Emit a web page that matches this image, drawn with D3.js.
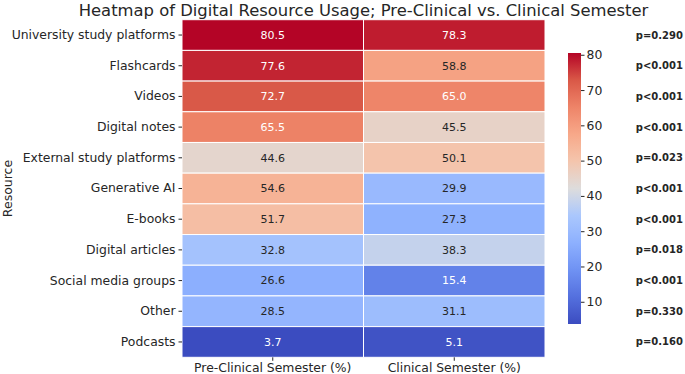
<!DOCTYPE html>
<html>
<head>
<meta charset="utf-8">
<script src="https://cdn.jsdelivr.net/npm/d3@7"></script>
<style>
  body { margin: 0; background: #fff; }
  svg { font-family: "DejaVu Sans", sans-serif; }
</style>
</head>
<body>
<svg id="chart"></svg>
<script>
// data
const resources = ['University study platforms', 'Flashcards', 'Videos', 'Digital notes',
    'External study platforms', 'Generative AI', 'E-books', 'Digital articles',
    'Social media groups', 'Other', 'Podcasts'];
const semesters = ['Pre-Clinical Semester (%)', 'Clinical Semester (%)'];
const preClinical = [80.5, 77.6, 72.7, 65.5, 44.6, 54.6, 51.7, 32.8, 26.6, 28.5, 3.7];
const clinical = [78.3, 58.8, 65.0, 45.5, 50.1, 29.9, 27.3, 38.3, 15.4, 31.1, 5.1];
const pValues = ['p=0.290', 'p<0.001', 'p<0.001', 'p<0.001', 'p=0.023', 'p<0.001',
    'p<0.001', 'p=0.018', 'p<0.001', 'p=0.330', 'p=0.160'];
const colorbarTicks = [10, 20, 30, 40, 50, 60, 70, 80];

// coolwarm approximation (styling)
const coolwarmStops = ['#3b4cc0', '#5470de', '#6f92f3', '#8db0fe', '#aac7fd', '#dddcdc',
    '#f4c5ad', '#f7a889', '#ee8468', '#d95847', '#b40426'];

const config = {
    width: 685,
    height: 374,
    left: 182, right: 545, top: 19.7, bottom: 357.3,
    cbarX: 568, cbarW: 13, cbarTop: 53, cbarBottom: 324
};

const allValues = preClinical.concat(clinical);
const vmin = d3.min(allValues), vmax = d3.max(allValues);

const table = [];
resources.forEach((r, i) => {
    table.push({ resource: r, semester: semesters[0], value: preClinical[i] });
    table.push({ resource: r, semester: semesters[1], value: clinical[i] });
});

const svg = d3.select('#chart')
    .attr('width', config.width)
    .attr('height', config.height);

const xScale = d3.scaleBand().domain(semesters).range([config.left, config.right]);
const yScale = d3.scaleBand().domain(resources).range([config.top, config.bottom]);

const colourInterp = d3.piecewise(d3.interpolateRgb, coolwarmStops);
const colourScale = v => colourInterp((v - vmin) / (vmax - vmin));

function luminance(c) {
    const rgb = d3.rgb(c);
    const f = x => {
        x /= 255;
        return x <= 0.03928 ? x / 12.92 : Math.pow((x + 0.055) / 1.055, 2.4);
    };
    return 0.2126 * f(rgb.r) + 0.7152 * f(rgb.g) + 0.0722 * f(rgb.b);
}

// cells
svg.append('g').selectAll('rect')
    .data(table)
    .join('rect')
    .attr('x', d => xScale(d.semester))
    .attr('y', d => yScale(d.resource))
    .attr('width', xScale.bandwidth())
    .attr('height', yScale.bandwidth())
    .attr('fill', d => colourScale(d.value))
    .attr('stroke', '#fff')
    .attr('stroke-width', 1);

svg.append('g').selectAll('text')
    .data(table)
    .join('text')
    .attr('x', d => xScale(d.semester) + xScale.bandwidth() / 2)
    .attr('y', d => yScale(d.resource) + yScale.bandwidth() / 2)
    .attr('dy', '0.35em')
    .attr('text-anchor', 'middle')
    .attr('font-size', 11)
    .attr('fill', d => luminance(colourScale(d.value)) > 0.408 ? '#262626' : '#ffffff')
    .text(d => d.value.toFixed(1));

// axes
const yAxis = d3.axisLeft(yScale).tickSize(3.5).tickPadding(3);
const yAxisG = svg.append('g')
    .attr('transform', `translate(${config.left},0)`)
    .call(yAxis);
yAxisG.select('.domain').remove();
yAxisG.selectAll('text').attr('font-size', 12.4).attr('fill', '#262626').attr('font-family', '"DejaVu Sans", sans-serif');
yAxisG.selectAll('line').attr('stroke', '#262626');

const xAxis = d3.axisBottom(xScale).tickSize(3.5).tickPadding(2);
const xAxisG = svg.append('g')
    .attr('transform', `translate(0,${config.bottom})`)
    .call(xAxis);
xAxisG.select('.domain').remove();
xAxisG.selectAll('text').attr('font-size', 12.4).attr('fill', '#262626').attr('font-family', '"DejaVu Sans", sans-serif');
xAxisG.selectAll('line').attr('stroke', '#262626');

svg.append('text')
    .attr('transform', `translate(12,${(config.top + config.bottom) / 2}) rotate(-90)`)
    .attr('text-anchor', 'middle')
    .attr('font-size', 12.5)
    .attr('fill', '#262626')
    .text('Resource');

// title, centred over the heatmap
svg.append('text')
    .attr('x', (config.left + config.right) / 2)
    .attr('y', 15.5)
    .attr('text-anchor', 'middle')
    .attr('font-size', 16.4)
    .attr('fill', '#262626')
    .text('Heatmap of Digital Resource Usage; Pre-Clinical vs. Clinical Semester');

// p-values
svg.append('g').selectAll('text')
    .data(pValues)
    .join('text')
    .attr('x', 683)
    .attr('y', (d, i) => yScale(resources[i]) + yScale.bandwidth() / 2)
    .attr('dy', '0.35em')
    .attr('text-anchor', 'end')
    .attr('font-size', 10)
    .attr('font-weight', 'bold')
    .attr('fill', '#262626')
    .text(d => d);

// colourbar
const cbScale = d3.scaleLinear().domain([vmin, vmax]).range([config.cbarBottom, config.cbarTop]);
const defs = svg.append('defs');
const grad = defs.append('linearGradient')
    .attr('id', 'cbar-grad')
    .attr('x1', 0).attr('y1', 1).attr('x2', 0).attr('y2', 0);
d3.range(0, 1.0001, 0.05).forEach(t => {
    grad.append('stop')
        .attr('offset', t)
        .attr('stop-color', colourInterp(t));
});
svg.append('rect')
    .attr('x', config.cbarX)
    .attr('y', config.cbarTop)
    .attr('width', config.cbarW)
    .attr('height', config.cbarBottom - config.cbarTop)
    .attr('fill', 'url(#cbar-grad)');

const cbAxis = d3.axisRight(cbScale).tickValues(colorbarTicks).tickSize(3.5).tickPadding(2);
const cbAxisG = svg.append('g')
    .attr('transform', `translate(${config.cbarX + config.cbarW},0)`)
    .call(cbAxis);
cbAxisG.select('.domain').remove();
cbAxisG.selectAll('text').attr('font-size', 12.4).attr('fill', '#262626').attr('font-family', '"DejaVu Sans", sans-serif');
cbAxisG.selectAll('line').attr('stroke', '#262626');
</script>
</body>
</html>
